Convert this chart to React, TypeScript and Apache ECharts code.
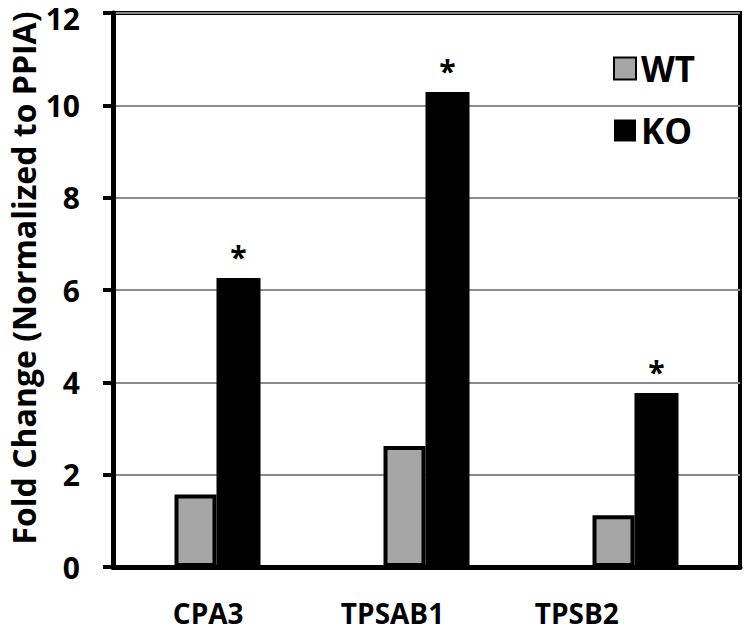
import React, { useEffect, useRef } from "react";
import * as echarts from "echarts";

const categories = ["CPA3", "TPSAB1", "TPSB2"];
const wtValues = [1.57, 2.62, 1.12];
const koValues = [6.26, 10.29, 3.77];
const koStars = ["*", "*", "*"];
const yTicks = [0, 2, 4, 6, 8, 10, 12];
const seriesNames = ["WT", "KO"];
const yTitle = "Fold Change (Normalized to PPIA)";

const FONT = "Open Sans";

export default function App() {
  const ref = useRef<HTMLDivElement>(null);
  useEffect(() => {
    if (!ref.current) return;
    const chart = echarts.init(ref.current, null, { renderer: "svg" });
    const yMax = yTicks[yTicks.length - 1];
    const tickFont = { fontFamily: FONT, fontWeight: "bold" as const, fontSize: 30, lineHeight: 24, color: "#000" };
    chart.setOption({
      animation: false,
      backgroundColor: "#fff",
      textStyle: { fontFamily: FONT, color: "#000" },
      grid: [
        { left: 113, top: 13, right: 7, bottom: 65, show: true, borderColor: "#000", borderWidth: 4, outerBoundsMode: "none", containLabel: false },
        { left: 116, top: 13, width: 553, bottom: 65, outerBoundsMode: "none", containLabel: false },
      ],
      legend: {
        orient: "vertical",
        left: 608,
        top: 46,
        itemWidth: 22,
        itemHeight: 22,
        itemGap: 27,
        icon: "rect",
        data: seriesNames,
        textStyle: { fontFamily: FONT, fontWeight: "bold", fontSize: 35, color: "#000", padding: [4, 0, 0, 0] },
      },
      xAxis: [
        {
          type: "category",
          gridIndex: 0,
          data: categories,
          axisLine: { show: true, lineStyle: { color: "#000", width: 5 } },
          axisTick: { show: false },
          axisLabel: { show: false },
        },
        {
          type: "category",
          gridIndex: 1,
          data: categories,
          axisLine: { show: false },
          axisTick: { show: false },
          axisLabel: { show: true, margin: 34, lineHeight: 24, fontFamily: FONT, fontWeight: "bold", fontSize: 28, color: "#000" },
        },
      ],
      yAxis: [
        {
          type: "value",
          gridIndex: 0,
          min: yTicks[0],
          max: yMax,
          interval: yTicks[1] - yTicks[0],
          name: yTitle,
          nameLocation: "middle",
          nameGap: 74,
          nameMoveOverlap: false,
          nameTextStyle: { fontFamily: FONT, fontWeight: "bold", fontSize: 32, color: "#000", padding: [0, 0, 0, 24] },
          axisLine: { show: true, lineStyle: { color: "#000", width: 5 } },
          axisTick: { show: true, length: 10, lineStyle: { color: "#000", width: 4 } },
          axisLabel: {
            margin: 33,
            ...tickFont,
            formatter: (v: number) => (v === yMax ? `{top|${v}}` : String(v)),
            rich: { top: { ...tickFont, padding: [10, 0, 0, 0] } },
          },
          splitLine: { show: true, lineStyle: { color: "#8a8a8a", width: 2 } },
        },
        { type: "value", gridIndex: 1, show: false },
      ],
      series: [
        {
          name: seriesNames[0],
          type: "bar",
          xAxisIndex: 0,
          yAxisIndex: 0,
          data: wtValues,
          barWidth: 42,
          barGap: "0%",
          itemStyle: { color: "#a6a6a6", borderColor: "#000", borderWidth: 4 },
        },
        {
          name: seriesNames[1],
          type: "bar",
          xAxisIndex: 0,
          yAxisIndex: 0,
          data: koValues,
          barWidth: 44,
          barGap: "0%",
          itemStyle: { color: "#000" },
          label: {
            show: true,
            position: "top",
            distance: 6,
            formatter: (p: any) => koStars[p.dataIndex],
            fontFamily: FONT,
            fontWeight: "bold",
            fontSize: 30,
            color: "#000",
          },
        },
      ],
    });
    return () => chart.dispose();
  }, []);
  return <div ref={ref} style={{ position: "fixed", left: 0, top: 0, width: 747, height: 632 }} />;
}
